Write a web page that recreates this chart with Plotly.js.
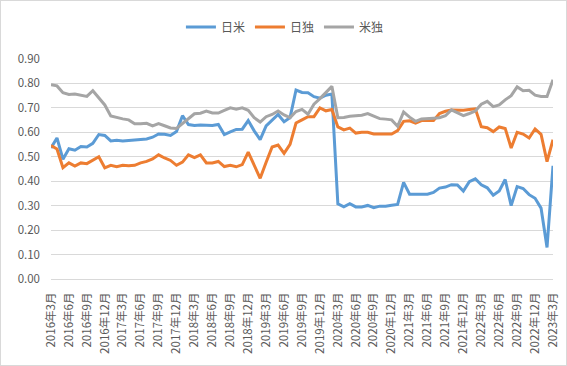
<!DOCTYPE html>
<html>
<head>
<meta charset="utf-8">
<script src="https://cdn.plot.ly/plotly-3.0.1.min.js"></script>
<style>
html, body { margin: 0; padding: 0; background: #ffffff; }
#chart { width: 567px; height: 366px; box-sizing: border-box; border: 1px solid #d9d9d9; }
</style>
</head>
<body>
<div id="chart"></div>
<script>
const categories = [
  "2016年3月","2016年4月","2016年5月","2016年6月","2016年7月","2016年8月","2016年9月","2016年10月","2016年11月","2016年12月",
  "2017年1月","2017年2月","2017年3月","2017年4月","2017年5月","2017年6月","2017年7月","2017年8月","2017年9月","2017年10月","2017年11月","2017年12月",
  "2018年1月","2018年2月","2018年3月","2018年4月","2018年5月","2018年6月","2018年7月","2018年8月","2018年9月","2018年10月","2018年11月","2018年12月",
  "2019年1月","2019年2月","2019年3月","2019年4月","2019年5月","2019年6月","2019年7月","2019年8月","2019年9月","2019年10月","2019年11月","2019年12月",
  "2020年1月","2020年2月","2020年3月","2020年4月","2020年5月","2020年6月","2020年7月","2020年8月","2020年9月","2020年10月","2020年11月","2020年12月",
  "2021年1月","2021年2月","2021年3月","2021年4月","2021年5月","2021年6月","2021年7月","2021年8月","2021年9月","2021年10月","2021年11月","2021年12月",
  "2022年1月","2022年2月","2022年3月","2022年4月","2022年5月","2022年6月","2022年7月","2022年8月","2022年9月","2022年10月","2022年11月","2022年12月",
  "2023年1月","2023年2月","2023年3月"
];

const tickLabels = [
  "2016年3月","2016年6月","2016年9月","2016年12月",
  "2017年3月","2017年6月","2017年9月","2017年12月",
  "2018年3月","2018年6月","2018年9月","2018年12月",
  "2019年3月","2019年6月","2019年9月","2019年12月",
  "2020年3月","2020年6月","2020年9月","2020年12月",
  "2021年3月","2021年6月","2021年9月","2021年12月",
  "2022年3月","2022年6月","2022年9月","2022年12月",
  "2023年3月"
];

const seriesNames = ["日米", "日独", "米独"];

const japanUS = [
  0.536,0.577,0.490,0.533,0.527,0.542,0.540,0.555,0.591,0.587,
  0.565,0.568,0.565,0.567,0.568,0.570,0.573,0.580,0.593,0.592,0.587,0.603,
  0.668,0.632,0.628,0.630,0.628,0.628,0.632,0.591,0.602,0.612,0.613,0.648,
  0.606,0.570,0.626,0.651,0.673,0.643,0.660,0.773,0.763,0.762,0.746,0.740,
  0.752,0.757,0.308,0.295,0.308,0.295,0.295,0.301,0.292,0.298,0.298,0.302,
  0.305,0.395,0.347,0.347,0.347,0.347,0.354,0.372,0.376,0.386,0.385,0.360,
  0.398,0.410,0.385,0.373,0.343,0.360,0.407,0.300,0.378,0.370,0.345,0.330,
  0.290,0.129,0.463
];

const japanGermany = [
  0.546,0.532,0.455,0.475,0.462,0.475,0.472,0.485,0.500,0.455,
  0.465,0.459,0.465,0.463,0.465,0.475,0.481,0.491,0.508,0.495,0.485,0.465,
  0.478,0.508,0.497,0.508,0.475,0.475,0.481,0.460,0.465,0.459,0.468,0.519,
  0.468,0.412,0.478,0.540,0.548,0.514,0.551,0.638,0.651,0.664,0.664,0.700,
  0.688,0.693,0.622,0.610,0.617,0.597,0.600,0.600,0.593,0.592,0.592,0.593,
  0.607,0.645,0.647,0.638,0.648,0.648,0.648,0.677,0.686,0.691,0.690,0.690,
  0.693,0.696,0.623,0.619,0.603,0.622,0.616,0.536,0.600,0.593,0.577,0.614,
  0.592,0.480,0.570
];

const usGermany = [
  0.795,0.790,0.762,0.755,0.757,0.751,0.747,0.770,0.741,0.712,
  0.667,0.660,0.655,0.651,0.635,0.635,0.637,0.626,0.636,0.627,0.618,0.616,
  0.636,0.656,0.676,0.678,0.687,0.679,0.679,0.690,0.700,0.695,0.700,0.690,
  0.660,0.642,0.664,0.673,0.687,0.671,0.660,0.685,0.694,0.674,0.715,0.738,
  0.762,0.788,0.660,0.661,0.666,0.668,0.670,0.677,0.667,0.656,0.654,0.651,
  0.625,0.683,0.662,0.645,0.655,0.655,0.658,0.660,0.668,0.692,0.680,0.668,
  0.677,0.687,0.715,0.727,0.705,0.712,0.733,0.750,0.786,0.770,0.772,0.752,
  0.747,0.747,0.815
];

const yTicks = [0, 0.1, 0.2, 0.3, 0.4, 0.5, 0.6, 0.7, 0.8, 0.9];

const colors = ["#5B9BD5", "#ED7D31", "#A5A5A5"];
const fontFamily = '"Noto Sans CJK JP", "Noto Sans", sans-serif';
const textColor = "#595959";

const allSeries = [japanUS, japanGermany, usGermany];
const traces = allSeries.map((vals, k) => ({
  type: "scatter",
  mode: "lines",
  name: seriesNames[k],
  x: categories,
  y: vals,
  line: { color: colors[k], width: 3, shape: "linear" },
  hoverinfo: "x+y+name"
}));

const layout = {
  width: 565,
  height: 364,
  margin: { l: 50, r: 13, t: 44, b: 86, pad: 0 },
  paper_bgcolor: "#ffffff",
  plot_bgcolor: "#ffffff",
  font: { family: fontFamily, size: 11.5, color: textColor },
  showlegend: true,
  legend: {
    orientation: "h",
    x: 0.466,
    xanchor: "center",
    y: 1.145,
    yanchor: "middle",
    font: { family: fontFamily, size: 12, color: textColor },
    traceorder: "normal",
    itemwidth: 30
  },
  xaxis: {
    type: "category",
    categoryorder: "array",
    categoryarray: categories,
    tickmode: "array",
    tickvals: tickLabels,
    ticktext: tickLabels,
    tickangle: -90,
    showgrid: false,
    showline: true,
    linecolor: "#d9d9d9",
    linewidth: 1,
    ticks: "",
    ticklabelstandoff: 8,
    tickfont: { family: fontFamily, size: 11.5, color: textColor },
    zeroline: false,
    fixedrange: true
  },
  yaxis: {
    range: [0, 0.9],
    tickmode: "array",
    tickvals: yTicks,
    tickformat: ".2f",
    showgrid: true,
    gridcolor: "#d9d9d9",
    gridwidth: 1,
    showline: false,
    zeroline: false,
    ticks: "",
    ticklabelstandoff: 10,
    tickfont: { family: fontFamily, size: 11.5, color: textColor },
    fixedrange: true
  }
};

Plotly.newPlot("chart", traces, layout, { displayModeBar: false, staticPlot: true });
</script>
</body>
</html>
